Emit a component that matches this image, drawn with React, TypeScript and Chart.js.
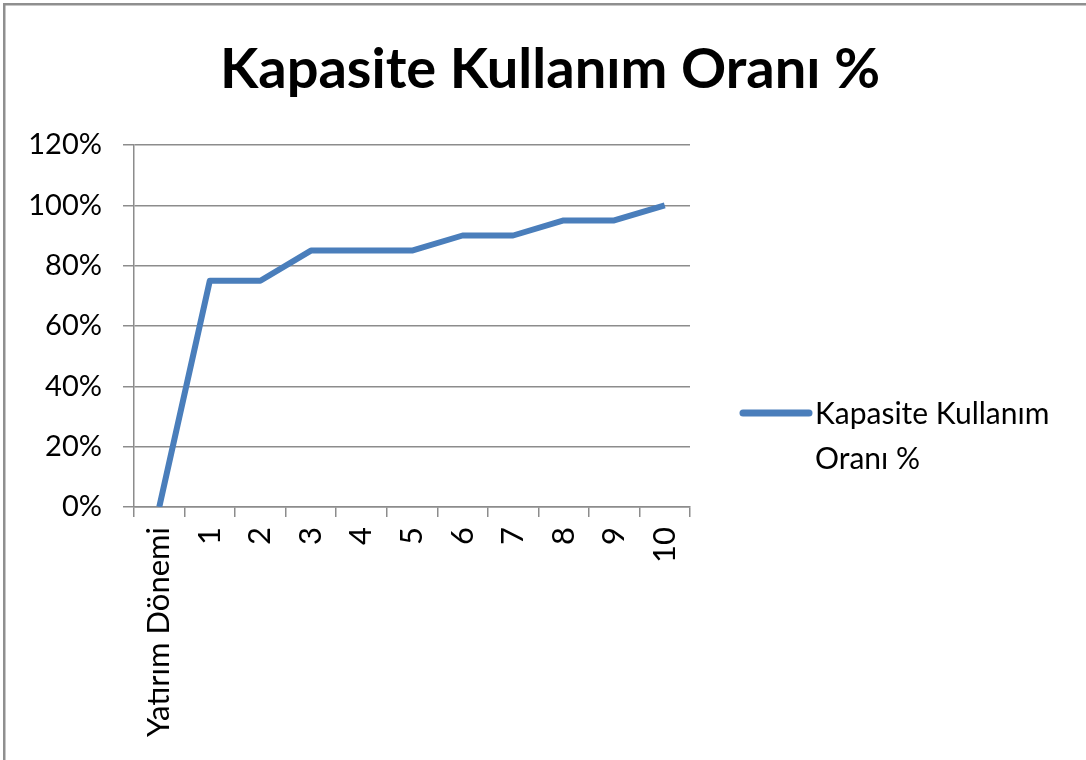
import React, { useEffect, useRef } from "react";
import { Chart, registerables } from "chart.js";

Chart.register(...registerables);

const chartTitle = "Kapasite Kullanım Oranı %";
const categories = ["Yatırım Dönemi", "1", "2", "3", "4", "5", "6", "7", "8", "9", "10"];
const capacityValues = [0, 75, 75, 85, 85, 85, 90, 90, 95, 95, 100];
const seriesName = "Kapasite Kullanım Oranı %";
const legendLines = ["Kapasite Kullanım", "Oranı %"];
const yMin = 0;
const yMax = 120;
const yStep = 20;

const W = 1086;
const H = 760;
const LINE_COLOR = "#4A7EBB";
const GRID_COLOR = "#8c8c8c";
const FONT = "Lato";

export default function App() {
  const ref = useRef<HTMLCanvasElement | null>(null);

  useEffect(() => {
    const canvas = ref.current;
    if (!canvas) return;

    const plotLeft = 134;
    const plotRight = 690;
    const plotTop = 145;
    const plotBottom = 507;
    const padL = 14;

    const framePlugin = {
      id: "frame",
      beforeDraw(chart: any) {
        const c = chart.ctx;
        c.save();
        c.fillStyle = "#ffffff";
        c.fillRect(0, 0, chart.width, chart.height);
        c.fillStyle = "#8f8f8f";
        c.fillRect(3, 3, chart.width - 3, 2.5);
        c.fillRect(3, 3, 2.5, chart.height - 3);
        c.restore();
      },
    };

    const titleLegendPlugin = {
      id: "titleLegend",
      afterDraw(chart: any) {
        const c = chart.ctx;
        const ds = chart.data.datasets[0];
        c.save();
        // title
        c.fillStyle = "#000";
        c.font = `bold 56px ${FONT}`;
        c.textAlign = "center";
        c.textBaseline = "alphabetic";
        c.fillText(chartTitle, 550, 88);
        // legend
        const area = chart.chartArea;
        const lx = area.right + 53;
        const ly = 413;
        c.strokeStyle = ds.borderColor;
        c.lineWidth = 7;
        c.lineCap = "round";
        c.beginPath();
        c.moveTo(lx, ly);
        c.lineTo(lx + 66, ly);
        c.stroke();
        c.font = `30px ${FONT}`;
        c.textAlign = "left";
        c.fillStyle = "#000";
        legendLines.forEach((line, i) => {
          c.fillText(line, lx + 72, ly + 11 + i * 45);
        });
        c.restore();
      },
    };

    const chart = new Chart(canvas, {
      type: "line",
      data: {
        labels: categories,
        datasets: [
          {
            label: seriesName,
            data: capacityValues,
            borderColor: LINE_COLOR,
            backgroundColor: LINE_COLOR,
            borderWidth: 6,
            pointRadius: 0,
            pointHoverRadius: 0,
            tension: 0,
            borderJoinStyle: "round",
            fill: false,
          },
        ],
      },
      options: {
        responsive: false,
        animation: false,
        devicePixelRatio: 1,
        layout: { padding: { left: padL, right: W - plotRight, top: plotTop, bottom: 0 } },
        plugins: {
          title: { display: false },
          legend: { display: false },
          tooltip: { enabled: false },
        },
        scales: {
          x: {
            type: "category",
            offset: true,
            afterFit: (scale: any) => {
              scale.height = H - plotBottom;
            },
            grid: {
              offset: true,
              drawOnChartArea: false,
              drawTicks: true,
              tickLength: 10,
              color: GRID_COLOR,
              lineWidth: 1.5,
            },
            border: { display: true, color: GRID_COLOR, width: 1.5 },
            ticks: {
              autoSkip: false,
              minRotation: 90,
              maxRotation: 90,
              color: "#000",
              font: { family: FONT, size: 31 },
              padding: 10,
            },
          },
          y: {
            min: yMin,
            max: yMax,
            afterFit: (scale: any) => {
              scale.width = plotLeft - padL;
            },
            grid: {
              drawTicks: true,
              tickLength: 11,
              color: GRID_COLOR,
              lineWidth: 1.5,
            },
            border: { display: true, color: GRID_COLOR, width: 1.5 },
            ticks: {
              stepSize: yStep,
              color: "#000",
              font: { family: FONT, size: 29 },
              padding: 21,
              callback: (v: any) => `${v}%`,
            },
          },
        },
      },
      plugins: [framePlugin, titleLegendPlugin],
    });

    return () => chart.destroy();
  }, []);

  return (
    <div style={{ position: "fixed", left: 0, top: 0, width: W, height: H, background: "#fff" }}>
      <canvas ref={ref} width={W} height={H} style={{ width: W, height: H, display: "block" }} />
    </div>
  );
}
